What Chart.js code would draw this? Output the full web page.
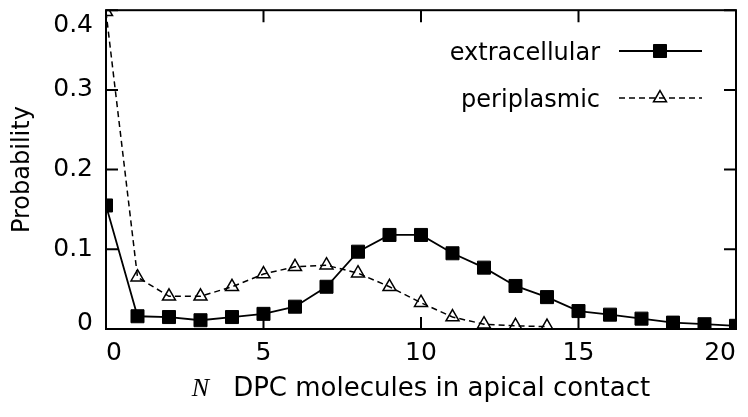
<!DOCTYPE html>
<html><head><meta charset="utf-8">
<script src="https://cdn.jsdelivr.net/npm/chart.js@4"></script>
<style>html,body{margin:0;padding:0;background:#fff}#wrap{width:748px;height:417px}</style>
</head><body><div id="wrap"><canvas id="c" width="748" height="417"></canvas></div>
<script>
const categories = [0,1,2,3,4,5,6,7,8,9,10,11,12,13,14,15,16,17,18,19,20];
const extracellular = [0.155,0.016,0.015,0.011,0.015,0.019,0.028,0.053,0.097,0.118,0.118,0.095,0.077,0.054,0.040,0.0225,0.018,0.013,0.008,0.006,0.004];
const periplasmic = [0.398,0.065,0.041,0.041,0.053,0.069,0.078,0.080,0.070,0.053,0.033,0.015,0.006,0.004,0.003,null,null,null,null,null,null];
const xTicks = [0,5,10,15,20];
const yTicks = [0,0.1,0.2,0.3,0.4];
const seriesNames = ['extracellular','periplasmic'];
const xTitleVar = 'N';
const xTitleText = 'DPC molecules in apical contact';
const yTitle = 'Probability';

const SANS = "'DejaVu Sans', sans-serif";
const fmtY = v => v===0 ? '0' : v.toFixed(1);
const yMin = yTicks[0], yMax = yTicks[yTicks.length-1];

const toPts = arr => categories.map((c,i)=>({x:c,y:arr[i]}));

const framePlugin = {
  id:'frame',
  afterDatasetsDraw(chart){
    const {ctx, chartArea:a, scales} = chart;
    ctx.save();
    ctx.strokeStyle='#000';
    ctx.lineWidth=2;
    ctx.strokeRect(a.left,a.top,a.right-a.left,a.bottom-a.top);
    const tl=12;
    ctx.beginPath();
    xTicks.forEach(v=>{
      const px=scales.x.getPixelForValue(v);
      ctx.moveTo(px,a.bottom); ctx.lineTo(px,a.bottom-tl);
      ctx.moveTo(px,a.top); ctx.lineTo(px,a.top+tl);
    });
    yTicks.forEach(v=>{
      const py=scales.y.getPixelForValue(v);
      ctx.moveTo(a.left,py); ctx.lineTo(a.left+tl,py);
      ctx.moveTo(a.right,py); ctx.lineTo(a.right-tl,py);
    });
    ctx.stroke();
    ctx.restore();
  },
  afterDraw(chart){
    const {ctx, chartArea:a, scales} = chart;
    ctx.save();
    // end tick labels of y axis kept inside the frame height (inner alignment)
    ctx.font = "25px "+SANS;
    ctx.fillStyle='#000';
    ctx.textAlign='right';
    ctx.textBaseline='alphabetic';
    const lx = a.left-13;
    ctx.fillText(fmtY(yMin), lx, scales.y.getPixelForValue(yMin)+1);
    ctx.fillText(fmtY(yMax), lx, scales.y.getPixelForValue(yMax)+22);
    // legend
    ctx.font = "24px "+SANS;
    const rows=[{y:51,base:60},{y:98,base:107}];
    chart.data.datasets.forEach((ds,i)=>{
      const r=rows[i];
      ctx.fillStyle='#000';
      ctx.textAlign='right';
      ctx.fillText(ds.label,600,r.base);
      ctx.strokeStyle=ds.borderColor;
      ctx.lineWidth=ds.borderWidth;
      ctx.setLineDash(ds.borderDash||[]);
      ctx.beginPath();
      ctx.moveTo(619,r.y); ctx.lineTo(702,r.y);
      ctx.stroke();
      ctx.setLineDash([]);
      ctx.fillStyle=ds.pointBackgroundColor;
      ctx.strokeStyle=ds.pointBorderColor;
      ctx.lineWidth=ds.pointBorderWidth;
      Chart.helpers.drawPoint(ctx,{pointStyle:ds.pointStyle,radius:ds.pointRadius,rotation:0,borderWidth:ds.pointBorderWidth},660,r.y);
    });
    // x title
    const fN = "italic 26px 'Liberation Serif', 'DejaVu Serif', serif";
    const fT = "26px "+SANS;
    ctx.font=fN; const wN=ctx.measureText(xTitleVar).width;
    ctx.font=fT; const wT=ctx.measureText(xTitleText).width;
    const gap=24;
    const total=wN+gap+wT;
    const x0=(a.left+a.right)/2-total/2;
    ctx.textAlign='left';
    ctx.fillStyle='#000';
    ctx.font=fN; ctx.fillText(xTitleVar,x0,396);
    ctx.font=fT; ctx.fillText(xTitleText,x0+wN+gap,396);
    ctx.restore();
  }
};

new Chart(document.getElementById('c'),{
  type:'line',
  data:{datasets:[
    {label:seriesNames[0],data:toPts(extracellular),borderColor:'#000',borderWidth:1.8,
     pointStyle:'rect',pointRadius:9.2,pointHoverRadius:9.2,pointBackgroundColor:'#000',pointBorderColor:'#000',pointBorderWidth:1,
     tension:0,fill:false,clip:0},
    {label:seriesNames[1],data:toPts(periplasmic),borderColor:'#000',borderWidth:1.5,borderDash:[6,4],
     pointStyle:'triangle',pointRadius:7.5,pointHoverRadius:7.5,pointBackgroundColor:'rgba(0,0,0,0)',pointBorderColor:'#000',pointBorderWidth:1.5,
     tension:0,fill:false,clip:0,spanGaps:false}
  ]},
  options:{
    responsive:false,
    devicePixelRatio:1,
    animation:false,
    events:[],
    layout:{padding:{left:0,top:10,right:12,bottom:0}},
    plugins:{legend:{display:false},tooltip:{enabled:false},title:{display:false}},
    scales:{
      x:{type:'linear',min:0,max:20,
        afterBuildTicks:s=>{s.ticks=xTicks.map(v=>({value:v}));},
        afterFit:s=>{s.height=88;s.paddingLeft=0;s.paddingRight=0;},
        ticks:{font:{family:SANS,size:25},color:'#000',padding:9,maxRotation:0,autoSkip:false,align:'inner'},
        grid:{display:false,drawTicks:false},border:{display:false}},
      y:{type:'linear',min:yMin,max:yMax,
        afterBuildTicks:s=>{s.ticks=yTicks.map(v=>({value:v}));},
        afterFit:s=>{s.width=106;s.paddingTop=0;s.paddingBottom=0;},
        ticks:{font:{family:SANS,size:25},color:'#000',padding:13,autoSkip:false,
          callback:v=>(v===yMin||v===yMax)?'':fmtY(v)},
        title:{display:true,text:yTitle,font:{family:SANS,size:24},color:'#000',padding:{top:8,bottom:0}},
        grid:{display:false,drawTicks:false},border:{display:false}}
    }
  },
  plugins:[framePlugin]
});
</script></body></html>
